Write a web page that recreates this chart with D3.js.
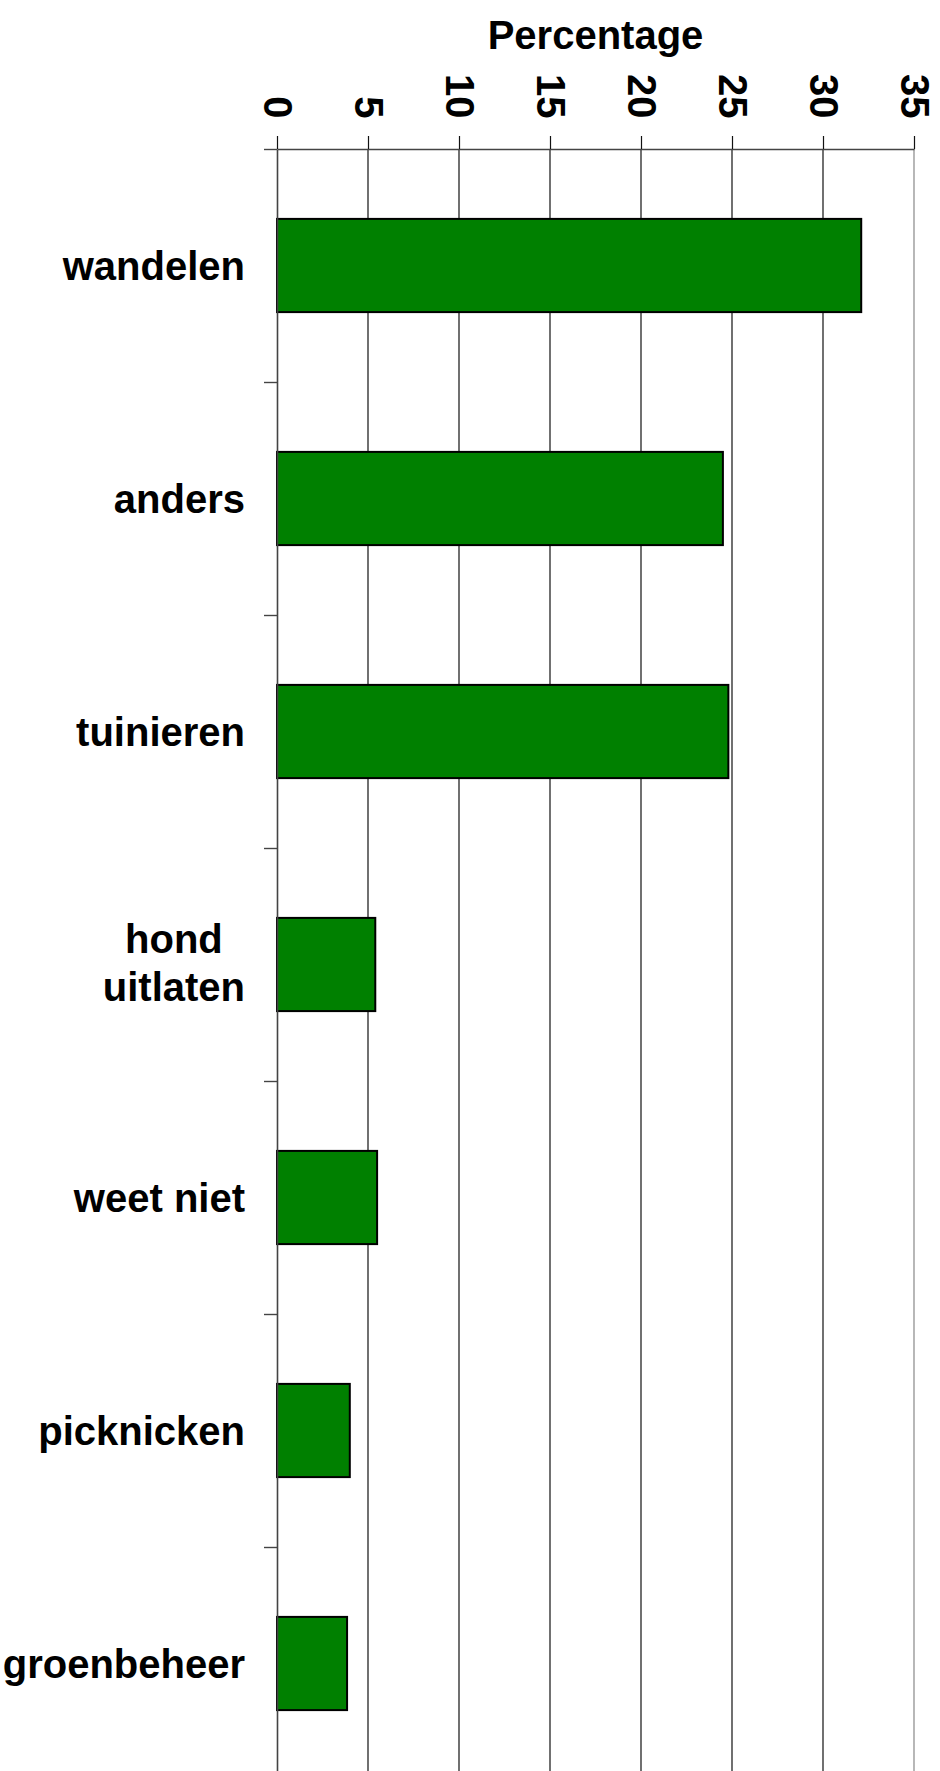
<!DOCTYPE html>
<html>
<head>
    <title>Percentage</title>
    <script src="https://d3js.org/d3.v7.min.js"></script>
    <style>
        body { margin: 0; background: #fff; }
        text { font-family: "Liberation Sans", Arial, sans-serif; font-weight: bold; fill: #000; }
    </style>
</head>
<body>
    <div id="chart"></div>
    <script>
// data
const categories = ["wandelen", "anders", "tuinieren", "hond\nuitlaten", "weet niet", "picknicken", "groenbeheer"];
const percentages = [32.1, 24.5, 24.8, 5.4, 5.5, 4.0, 3.85];
const xTicks = [0, 5, 10, 15, 20, 25, 30, 35];

const W = 940, H = 1771;
const plotTop = 149, step = 233;
const svg = d3.select("#chart").append("svg").attr("width", W).attr("height", H);

const x = d3.scaleLinear().domain([0, 35]).range([277, 914]);
const y = d3.scaleBand().domain(categories)
    .range([plotTop, plotTop + step * categories.length])
    .paddingInner(0.6).paddingOuter(0.3);
// band boundaries for the left ticks
const yEdge = d3.scaleLinear().domain([0, categories.length]).range([plotTop, plotTop + step * categories.length]);

// gridlines
svg.append("g").selectAll("line")
    .data(xTicks.slice(1))
    .join("line")
    .attr("x1", d => x(d)).attr("x2", d => x(d))
    .attr("y1", plotTop).attr("y2", H)
    .attr("stroke", d => d === 35 ? "#888" : "#111")
    .attr("stroke-width", 1.2);

// bars
svg.append("g").selectAll("rect")
    .data(categories)
    .join("rect")
    .attr("x", x(0))
    .attr("y", d => y(d))
    .attr("width", (d, i) => x(percentages[i]) - x(0))
    .attr("height", y.bandwidth())
    .attr("fill", "#008000")
    .attr("stroke", "#000")
    .attr("stroke-width", 2);

// left axis (ticks between bars)
const yAxis = svg.append("g").attr("transform", `translate(${x(0)},0)`)
    .call(d3.axisLeft(yEdge).tickValues(d3.range(categories.length + 1)).tickSize(13).tickSizeOuter(0).tickFormat(""));
yAxis.select(".domain").attr("stroke", "#444").attr("stroke-width", 1.6);
yAxis.selectAll(".tick line").attr("stroke", "#444").attr("stroke-width", 1.4);

// top axis
const xAxis = svg.append("g").attr("transform", `translate(0,${plotTop})`)
    .call(d3.axisTop(x).tickValues(xTicks).tickSize(13).tickSizeOuter(0));
xAxis.select(".domain").attr("stroke", "#444").attr("stroke-width", 1.6);
xAxis.selectAll(".tick line").attr("stroke", "#111").attr("stroke-width", 1.2);
xAxis.selectAll(".tick text")
    .attr("x", 0).attr("y", 0).attr("dy", "0.35em")
    .attr("text-anchor", "end")
    .attr("transform", "translate(0,-30.5) rotate(90)")
    .style("font-size", "40px");
xAxis.attr("font-family", null).attr("font-size", null);

// category labels
const labelRight = 245;
categories.forEach(c => {
    const lines = c.split("\n");
    const cy = y(c) + y.bandwidth() / 2;
    const t = svg.append("text").style("font-size", "40px");
    if (lines.length === 1) {
        t.attr("x", labelRight).attr("y", cy).attr("dy", "0.35em")
            .attr("text-anchor", "end").text(c);
    } else {
        t.attr("text-anchor", "middle");
        const spans = lines.map((l, i) => t.append("tspan")
            .attr("y", cy + 12 + (i - (lines.length - 1) / 2) * 48).text(l));
        const maxW = d3.max(spans, s => s.node().getComputedTextLength());
        spans.forEach(s => s.attr("x", labelRight - maxW / 2));
    }
});

// title
svg.append("text")
    .attr("x", (x(0) + x(35)) / 2).attr("y", 48.5)
    .attr("text-anchor", "middle")
    .style("font-size", "40px")
    .text("Percentage");
    </script>
</body>
</html>
